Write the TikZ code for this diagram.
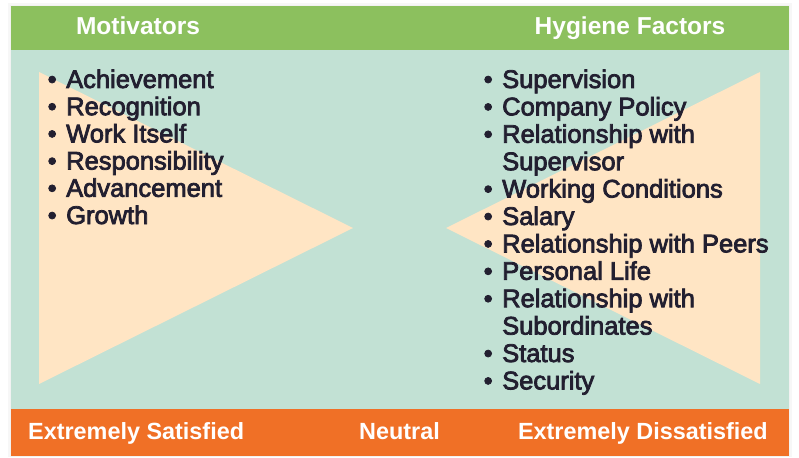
\documentclass[tikz,border=0pt]{standalone}
\usepackage{fontspec}
\setmainfont{Liberation Sans}
\newfontfamily\listfont[FakeBold=3]{Liberation Sans}
\definecolor{hgreen}{HTML}{8CC05E}
\definecolor{bgteal}{HTML}{C2E1D4}
\definecolor{peach}{HTML}{FFE5C4}
\definecolor{barorange}{HTML}{F07026}
\definecolor{inkc}{HTML}{221F30}
\tikzset{
  head/.style={anchor=base, inner sep=0pt, text=white, font=\bfseries\fontsize{24.5}{26}\selectfont},
  foot/.style={inner sep=0pt, text=white, font=\bfseries\fontsize{23.4}{26}\selectfont},
  item/.style={anchor=base west, inner sep=0pt, text=inkc, font=\listfont\fontsize{25.5}{27.4}\selectfont},
  bul/.style={anchor=base west, inner sep=0pt, text=inkc, font=\listfont\fontsize{25.5}{27.4}\selectfont},
}
\begin{document}
\begin{tikzpicture}[x=1pt,y=-1pt]
\useasboundingbox (0,0) rectangle (799,457);
\fill[white] (0,0) rectangle (799,457);
\fill[black!3] (8,3) rectangle (792,457);
\fill[black!5] (10,5) rectangle (790,457);
% bands
\fill[hgreen] (11,6) rectangle (789,50);
\fill[bgteal] (11,50) rectangle (789,409);
\fill[barorange] (11,409) rectangle (789,456);
% triangles
\fill[peach] (39,72) -- (353,228) -- (39,384) -- cycle;
\fill[peach] (760,72) -- (446,228) -- (760,384) -- cycle;
% headers
\node[head] (hm) at (138,35) {Motivators};
\node[head] (hh) at (630,35) {Hygiene Factors};
% left list
\foreach \t [count=\i from 0] in {Achievement,Recognition,Work Itself,Responsibility,Advancement,Growth}{
  \node[bul] (lb\i) at (47.5,{88+27.2*\i}) {•};
  \node[item] (l\i) at (66,{88+27.2*\i}) {\t};
}
% right list
\foreach \t/\b [count=\i from 0] in {Supervision/1,Company Policy/1,Relationship with/1,Supervisor/0,Working Conditions/1,Salary/1,Relationship with Peers/1,Personal Life/1,Relationship with/1,Subordinates/0,Status/1,Security/1}{
  \ifnum\b=1 \node[bul] (rb\i) at (483.5,{88+27.4*\i}) {•};\fi
  \node[item] (r\i) at (502,{88+27.4*\i}) {\t};
}
% footer
\node[foot, anchor=base west] (fs) at (28,439) {Extremely Satisfied};
\node[foot, anchor=base west] (fn) at (359,439) {Neutral};
\node[foot, anchor=base east] (fd) at (768,439) {Extremely Dissatisfied};
\end{tikzpicture}
\end{document}
